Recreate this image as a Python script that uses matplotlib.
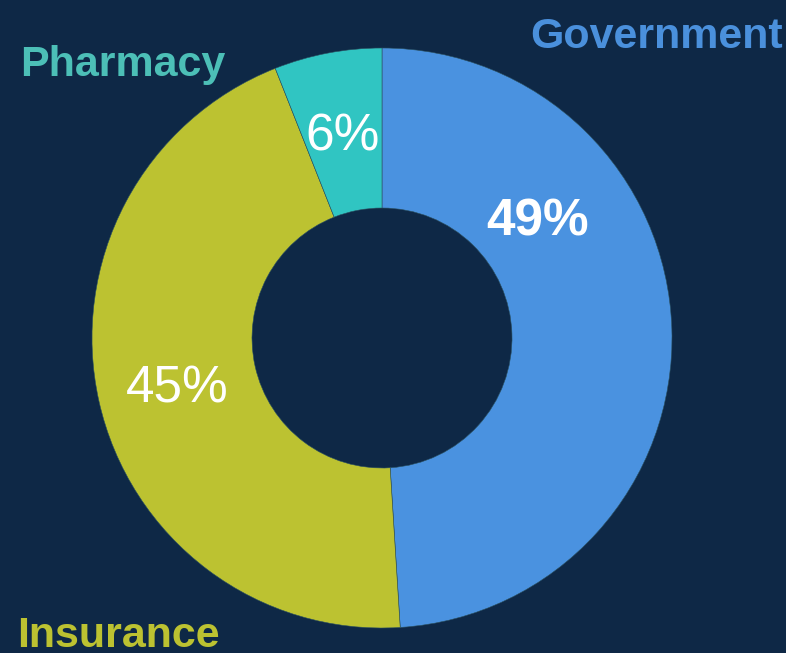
import matplotlib.pyplot as plt
import numpy as np

# payer mix
labels = ["Government", "Insurance", "Pharmacy"]
shares = [49, 45, 6]
colors = ["#4a92e0", "#bcc231", "#30c5c2"]
label_colors = ["#4a90dc", "#bcc231", "#4cbfb7"]

W, H = 786, 653
bg = "#0e2846"

plt.rcParams["font.family"] = ["Liberation Sans", "DejaVu Sans"]

fig = plt.figure(figsize=(W / 100, H / 100), dpi=100, facecolor=bg)
ax = fig.add_axes([0, 0, 1, 1])
ax.set_facecolor(bg)

cx, cy = 382, H - 338
r_out, r_in = 290, 130

wedges, _ = ax.pie(shares, colors=colors, startangle=90, counterclock=False,
                   radius=r_out, center=(cx, cy),
                   wedgeprops=dict(width=r_out - r_in, edgecolor="#2a5060", linewidth=0.4))

# percentage labels at mid-ring
mid_r = (r_out + r_in) / 2
for i, w in enumerate(wedges):
    ang = np.deg2rad((w.theta1 + w.theta2) / 2)
    rr = mid_r
    if labels[i] == "Government":
        ang = np.deg2rad(38)
        rr = 197
    x = cx + rr * np.cos(ang)
    y = cy + rr * np.sin(ang) - 5
    weight = "bold" if labels[i] == "Government" else "normal"
    ax.text(x, y, f"{shares[i]}%", ha="center", va="center", color="white",
            fontsize=37, fontweight=weight)

# category names
ax.text(530, H - 48, labels[0], color=label_colors[0], fontsize=31,
        fontweight="bold", ha="left", va="baseline")
ax.text(20, H - 76, labels[2], color=label_colors[2], fontsize=31,
        fontweight="bold", ha="left", va="baseline")
ax.text(17, H - 647, labels[1], color=label_colors[1], fontsize=31,
        fontweight="bold", ha="left", va="baseline")

ax.set_aspect("auto")
ax.set_xlim(0, W)
ax.set_ylim(0, H)
ax.axis("off")

fig.savefig("out.png", dpi=100, facecolor=bg)
